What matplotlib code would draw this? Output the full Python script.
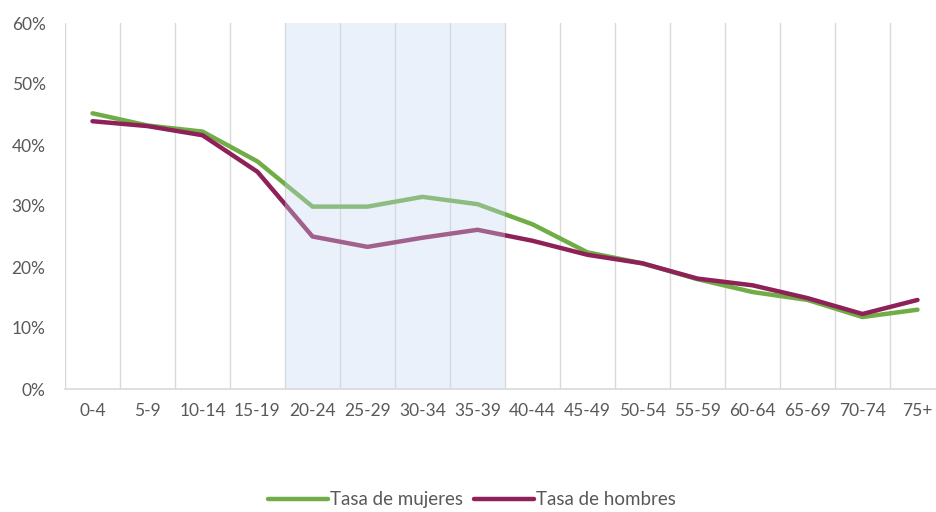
import numpy as np
import matplotlib
matplotlib.use("Agg")
import matplotlib.pyplot as plt
from matplotlib.ticker import PercentFormatter

plt.rcParams['font.family'] = ['Lato', 'DejaVu Sans']

age_groups = ["0-4", "5-9", "10-14", "15-19", "20-24", "25-29", "30-34", "35-39",
              "40-44", "45-49", "50-54", "55-59", "60-64", "65-69", "70-74", "75+"]
tasa_mujeres = [45.2, 43.2, 42.2, 37.3, 29.9, 29.9, 31.5, 30.3,
                27.0, 22.4, 20.6, 18.0, 15.9, 14.6, 11.8, 13.0]
tasa_hombres = [43.9, 43.1, 41.6, 35.6, 25.0, 23.3, 24.8, 26.1,
                24.3, 22.0, 20.6, 18.1, 17.0, 14.9, 12.3, 14.6]

text_color = "#595959"
grid_color = "#D9D9D9"

fig = plt.figure(figsize=(9.37, 5.12), dpi=100)
ax = fig.add_axes([65 / 937, 1 - 389 / 512, 880 / 937, 366 / 512])

x = np.arange(len(age_groups))
ax.plot(x, tasa_mujeres, color="#70AD47", lw=3.2, label="Tasa de mujeres",
        solid_capstyle="round", zorder=2)
ax.plot(x, tasa_hombres, color="#8E2157", lw=3.2, label="Tasa de hombres",
        solid_capstyle="round", zorder=2)

# vertical gridlines between categories
for b in np.arange(-0.5, len(age_groups) + 0.5, 1):
    ax.axvline(b, color=grid_color, lw=1, zorder=1)

# highlighted band 20-39, drawn over the lines
ax.axvspan(3.5, 7.5, color="#C5D9F1", alpha=0.35, lw=0, zorder=3)

ax.set_xlim(-0.5, len(age_groups) - 0.5)
ax.set_ylim(0, 60)
ax.set_yticks(np.arange(0, 61, 10))
ax.yaxis.set_major_formatter(PercentFormatter(decimals=0))
ax.set_xticks(x)
ax.set_xticklabels(age_groups)
ax.tick_params(axis="y", length=0, pad=14, labelsize=12.5, labelcolor=text_color)
ax.tick_params(axis="x", length=0, pad=10, labelsize=12.5, labelcolor=text_color)

for side in ["top", "right", "left"]:
    ax.spines[side].set_visible(False)
ax.spines["bottom"].set_color(grid_color)
ax.spines["bottom"].set_linewidth(1.2)

fig.legend(loc="center", bbox_to_anchor=(0.504, 0.024), ncol=2, frameon=False,
           fontsize=13.5, labelcolor=text_color, handlelength=3.2,
           handletextpad=0.1, columnspacing=0.6)

fig.savefig("out.png", dpi=100)
